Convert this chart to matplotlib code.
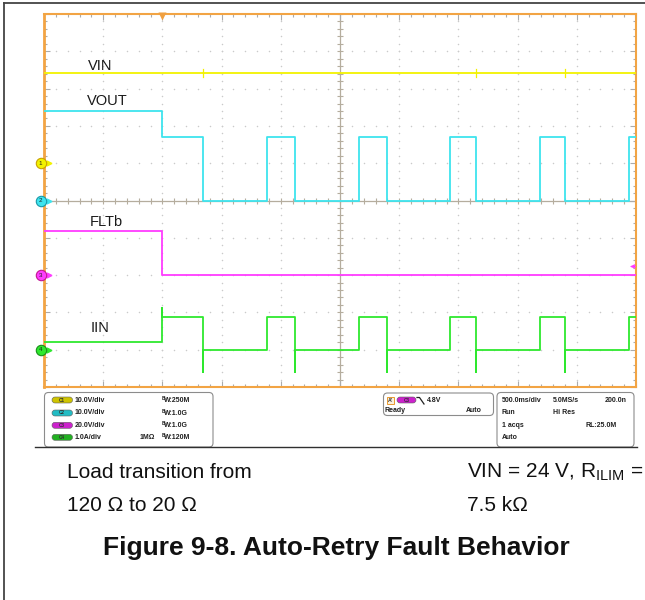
import numpy as np
import matplotlib
matplotlib.use('Agg')
import matplotlib.pyplot as plt
from matplotlib.patches import FancyBboxPatch, Rectangle

plt.rcParams['font.family'] = ['Liberation Sans', 'DejaVu Sans']
plt.rcParams['mathtext.fontset'] = 'custom'
plt.rcParams['mathtext.rm'] = 'Liberation Sans'
plt.rcParams['mathtext.it'] = 'Liberation Sans:italic'
plt.rcParams['mathtext.bf'] = 'Liberation Sans:bold'

# scope timebase: 500 ms/div, 10 divisions, trigger 2 div from the left
t_start, t_end = -1.0, 4.0
n_vdiv = 10

ch_names = ['VIN', 'VOUT', 'FLTb', 'IIN']
ch_scale = [10.0, 10.0, 20.0, 1.0]      # units per division
ch_offset = [1.0, 0.0, -2.0, -4.0]      # ground marker position, divisions
ch_colors = ['#f2f200', '#3ee4ee', '#ff3cff', '#2ee82e']
ch_badge = ['#cfc400', '#22bcc4', '#cc22cc', '#22b022']
ch_edge = ['#c8a000', '#1898a8', '#c01890', '#189018']
ch_label_pos = [(-0.628, 3.50), (-0.637, 2.56), (-0.617, -0.68), (-0.606, -3.53)]

# edge times (s) and the level held after each edge
vin_t = [-1.0]
vin_v = [24.1]
vin_glitch_t = [0.340, 2.651, 3.403]
vin_glitch_v = [1.1, 1.1, 1.1]

vout_t = [-1.0, 0.0, 0.340, 0.881, 1.122, 1.663, 1.894, 2.429, 2.651, 3.189, 3.403, 3.941]
vout_v = [24.0, 17.1, 0.0, 17.1, 0.0, 17.1, 0.0, 17.1, 0.0, 17.1, 0.0, 17.1]

flt_t = [-1.0, 0.0]
flt_v = [23.8, 0.0]

iin_t = [-1.0, 0.0, 0.340, 0.881, 1.122, 1.663, 1.894, 2.429, 2.651, 3.189, 3.403, 3.941]
iin_v = [0.2, 0.88, 0.0, 0.88, 0.0, 0.88, 0.0, 0.88, 0.0, 0.88, 0.0, 0.88]
iin_spike_t = [0.0, 0.340, 1.122, 1.894, 2.651, 3.403]
iin_spike_v = [1.13, -0.6, -0.6, -0.6, -0.6, -0.6]

trig_level = 4.8  # V on C3

left_rows = [('C1', '10.0V/div', '', 'W:250M'),
             ('C2', '10.0V/div', '', 'W:1.0G'),
             ('C3', '20.0V/div', '', 'W:1.0G'),
             ('C4', '1.0A/div', '1MΩ', 'W:120M')]
right_rows = [('500.0ms/div', '5.0MS/s', '200.0n'),
              ('Run', 'Hi Res', ''),
              ('1 acqs', '', 'RL:25.0M'),
              ('Auto', '', '')]


def build_trace(t, v, spike_t=(), spike_v=()):
    spikes = dict(zip(spike_t, spike_v))
    xs, ys = [t[0]], [v[0]]
    for i in range(1, len(t)):
        xs.append(t[i]); ys.append(v[i - 1])
        if t[i] in spikes:
            xs.append(t[i]); ys.append(spikes[t[i]])
        xs.append(t[i]); ys.append(v[i])
    xs.append(t_end); ys.append(v[-1])
    return np.array(xs), np.array(ys)


fig = plt.figure(figsize=(6.45, 6.0), dpi=100)

# overlay in pixel units for the page, readout panels and caption
ov = fig.add_axes([0, 0, 1, 1], zorder=0)
ov.set_xlim(0, 645)
ov.set_ylim(600, 0)
ov.axis('off')

ax = fig.add_axes([44 / 645, (600 - 387) / 600, 592 / 645, 373 / 600], zorder=1)
ax.set_xlim(t_start, t_end)
ax.set_ylim(-n_vdiv / 2, n_vdiv / 2)
ax.set_facecolor('white')

major_x = np.arange(t_start, t_end + 1e-9, 0.5)
minor_x = np.arange(t_start, t_end + 1e-9, 0.1)
major_y = np.arange(-5, 5.001, 1.0)
minor_y = np.arange(-5, 5.001, 0.2)
t_mid = (t_start + t_end) / 2

# dotted graticule
for gx in major_x[1:-1]:
    if abs(gx - t_mid) > 1e-6:
        ax.plot(np.full_like(minor_y, gx), minor_y, ls='none', marker='o', ms=1.1,
                mec='none', mfc='#cacaca', zorder=1)
for gy in major_y[1:-1]:
    if abs(gy) > 1e-6:
        ax.plot(minor_x, np.full_like(minor_x, gy), ls='none', marker='o', ms=1.1,
                mec='none', mfc='#cacaca', zorder=1)

# centre crosshair with minor ticks
ax.axhline(0, color='#b5ad9e', lw=0.9, zorder=1.5)
ax.axvline(t_mid, color='#b5ad9e', lw=0.9, zorder=1.5)
ax.plot(minor_x, np.zeros_like(minor_x), ls='none', marker='|', ms=4.2, mew=0.8,
        color='#b5ad9e', zorder=1.5)
ax.plot(np.full_like(minor_y, t_mid), minor_y, ls='none', marker='_', ms=4.2, mew=0.8,
        color='#b5ad9e', zorder=1.5)

# frame ticks
ax.set_xticks(major_x)
ax.set_xticks(minor_x, minor=True)
ax.set_yticks(major_y)
ax.set_yticks(minor_y, minor=True)
ax.tick_params(which='both', direction='in', top=True, right=True, color='#ababab',
               labelbottom=False, labelleft=False, width=0.8)
ax.tick_params(which='major', length=4.5)
ax.tick_params(which='minor', length=2.5)
for s in ax.spines.values():
    s.set_color('#f2a444')
    s.set_linewidth(1.5)
ax.spines['left'].set_linewidth(2.0)

# waveforms
traces = [build_trace(vin_t, vin_v),
          build_trace(vout_t, vout_v),
          build_trace(flt_t, flt_v),
          build_trace(iin_t, iin_v, iin_spike_t, iin_spike_v)]
for i, (x, y) in enumerate(traces):
    ax.plot(x, y / ch_scale[i] + ch_offset[i], color=ch_colors[i], lw=1.3, zorder=3 + i * 0.1)
    ax.text(ch_label_pos[i][0], ch_label_pos[i][1], ch_names[i], fontsize=10.5,
            color='#1a1a1a', va='baseline', zorder=6)

for gt, dv in zip(vin_glitch_t, vin_glitch_v):
    base = vin_v[0]
    ax.plot([gt, gt], [(base - dv) / ch_scale[0] + ch_offset[0], (base + dv) / ch_scale[0] + ch_offset[0]],
            color=ch_colors[0], lw=0.9, zorder=3)

# ground markers on the left edge
for i in range(4):
    ax.plot([t_start - 0.028, t_start + 0.045], [ch_offset[i]] * 2, color=ch_colors[i],
            lw=1.0, clip_on=False, zorder=7)
    ax.plot([t_start + 0.045], [ch_offset[i]], marker='>', ms=3.5, color=ch_colors[i],
            clip_on=False, zorder=7)
    ax.plot([t_start - 0.028], [ch_offset[i]], marker='o', ms=7.5, mfc=ch_colors[i],
            mec=ch_edge[i], mew=0.8, clip_on=False, zorder=8)
    ax.text(t_start - 0.028, ch_offset[i], str(i + 1), fontsize=4.5, ha='center', va='center',
            color='#202020', zorder=9, clip_on=False)

# trigger position and level markers
ax.plot([0.0], [4.94], marker='v', ms=5.5, color='#f0a040', mec='none', clip_on=False, zorder=8)
lvl = trig_level / ch_scale[2] + ch_offset[2]
ax.plot([3.96, t_end], [lvl, lvl], color=ch_colors[2], lw=0.9, zorder=8)
ax.plot([3.962], [lvl], marker='<', ms=3.5, color=ch_colors[2], mec='none', zorder=8)

# page border and bottom edge of the screen capture
ov.plot([4, 4], [3, 600], color='#444444', lw=1.3)
ov.plot([4, 645], [3, 3], color='#444444', lw=1.3)
ov.plot([35, 637], [447, 447], color='#303030', lw=1.0)

txt_kw = dict(fontsize=5, fontweight='bold', color='#202020', va='center')

# channel readout panel
ov.add_patch(FancyBboxPatch((44.5, 392.5), 168.5, 54.5, boxstyle='round,pad=0,rounding_size=4',
                            fc='white', ec='#8c8c8c', lw=0.8))
rows_y = [400, 413, 425.3, 437.3]
for i, (badge, vdiv, imp, bw) in enumerate(left_rows):
    y = rows_y[i]
    ov.add_patch(FancyBboxPatch((52, y - 3), 20.5, 6, boxstyle='round,pad=0,rounding_size=3',
                                fc=ch_badge[i], ec='#606060', lw=0.4))
    ov.text(62.2, y, badge, fontsize=3.3, fontweight='bold', color='#303030', ha='center', va='center')
    ov.text(75, y, vdiv, **txt_kw)
    if imp:
        ov.text(140, y, imp, **txt_kw)
    ov.text(161.5, y - 1.8, 'B', fontsize=3.6, fontweight='bold', color='#202020', va='center')
    ov.text(164.3, y + 0.6, bw, **txt_kw)

# trigger readout panel
ov.add_patch(FancyBboxPatch((383.5, 393), 110, 22.5, boxstyle='round,pad=0,rounding_size=4',
                            fc='white', ec='#8c8c8c', lw=0.8))
ov.add_patch(Rectangle((386.5, 396.5), 7, 7, fc='#faf0dc', ec='#e89a30', lw=0.7))
ov.text(390, 400, "A'", fontsize=3.8, fontweight='bold', color='#303030', ha='center', va='center')
ov.add_patch(FancyBboxPatch((397, 397), 19, 6, boxstyle='round,pad=0,rounding_size=3',
                            fc=ch_badge[2], ec='#606060', lw=0.4))
ov.text(406.5, 400, 'C3', fontsize=3.3, fontweight='bold', color='#303030', ha='center', va='center')
ov.plot([417, 419.5, 424], [397.5, 397.5, 404], color='#202020', lw=0.9)
ov.text(427, 400, '4.8V', **txt_kw)
ov.text(384.5, 410.7, 'Ready', **txt_kw)
ov.text(482, 410.7, 'Auto', ha='right', fontsize=5, fontweight='bold', color='#202020', va='center')

# timebase readout panel
ov.add_patch(FancyBboxPatch((497, 392.5), 137, 54.5, boxstyle='round,pad=0,rounding_size=4',
                            fc='white', ec='#8c8c8c', lw=0.8))
for i, (a, b, c) in enumerate(right_rows):
    y = rows_y[i]
    if a:
        ov.text(501.5, y, a, **txt_kw)
    if b:
        ov.text(553, y, b, **txt_kw)
    if c:
        ov.text(627 if i == 0 else 617, y, c, ha='right', fontsize=5, fontweight='bold',
                color='#202020', va='center')

# caption
cap_kw = dict(fontsize=15, color='#111111', va='baseline')
ov.text(66.7, 478, 'Load transition from', **cap_kw)
ov.text(66.7, 511, '120 Ω to 20 Ω', **cap_kw)
ov.text(466.7, 478, r'VIN = 24 V, R$_{\mathregular{ILIM}}$ =', **cap_kw)
ov.text(466.7, 511, '7.5 kΩ', **cap_kw)
ov.text(336.7, 555, 'Figure 9-8. Auto-Retry Fault Behavior', fontsize=19, fontweight='bold',
        color='#111111', ha='center', va='baseline')

fig.savefig('out.png', dpi=100, facecolor='white')
